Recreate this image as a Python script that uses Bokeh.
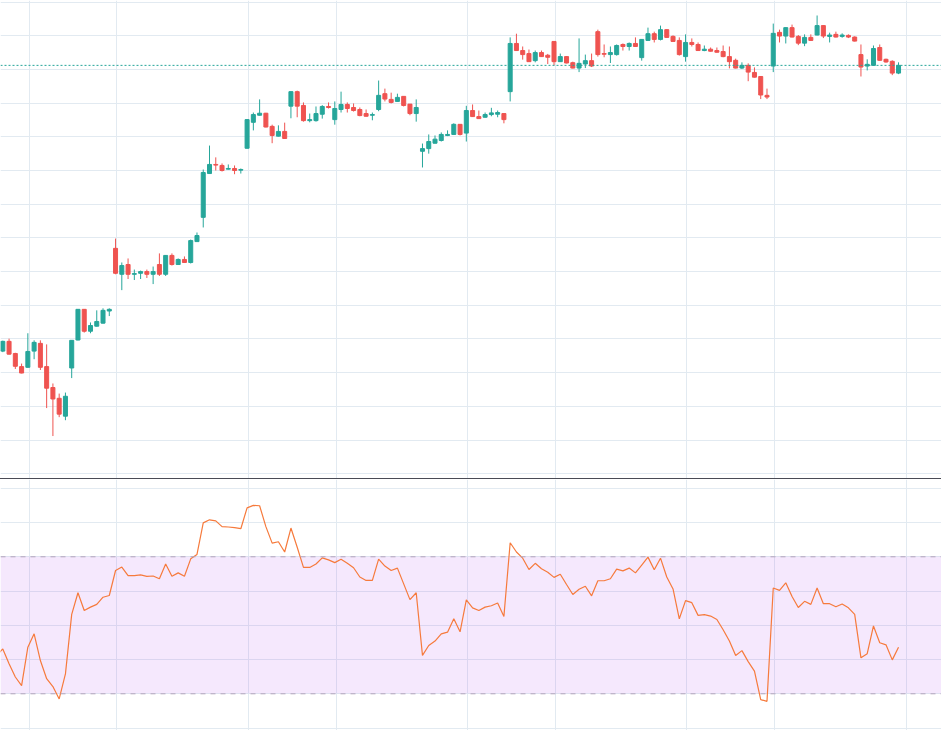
from bokeh.plotting import figure
from bokeh.layouts import column
from bokeh.models import Range1d, Span, FixedTicker, ColumnDataSource, Div
from bokeh.embed import file_html
from bokeh.resources import INLINE

# ---------------- data ----------------
opens = [136.4, 139.3, 135.7, 131.8, 131.6, 136.4, 138.7, 131.8, 125.6, 122.4,
         117.1, 131.4, 139.7, 148.8, 142.3, 143.8, 144.7, 148.3,
         166.9, 159.2, 162.1, 159.2, 159.5, 160.0, 159.2, 162.1, 159.2, 164.8,
         162.1, 163.6, 162.7, 168.9, 176.1, 189.1, 191.8, 191.5, 190.4, 190.6, 190.1,
         196.6, 204.3, 206.4, 207.0, 203.1, 200.2, 201.6, 209.1, 213.4, 209.3,
         204.8, 204.8, 206.7, 209.0, 205.1, 208.1, 209.6, 208.7, 208.1, 206.9,
         206.4, 208.1, 212.8, 211.1, 210.5, 212.0, 209.7, 206.9, 195.7, 196.5,
         198.1, 198.9, 200.4, 200.7, 203.7, 201.1, 207.8, 206.0, 205.8, 206.6,
         206.7, 206.9,
         213.4, 227.7, 225.6, 224.7, 222.6, 225.0, 224.2, 228.3, 222.3, 223.8,
         222.0, 220.4, 221.6, 222.6, 231.2, 224.7, 224.4, 224.4, 227.4, 226.8,
         227.7, 223.5, 228.6, 230.6, 228.9, 231.8, 229.8, 228.6, 223.8, 228.0,
         227.4,
         225.6, 226.0, 225.6, 225.3, 223.8, 222.7, 220.4, 221.2, 219.1, 217.9,
         212.3, 221.0, 231.0, 229.9, 232.4, 229.8, 227.8, 229.5, 230.2, 233.0,
         229.8, 230.4, 229.8, 230.1, 229.6, 224.4, 221.0, 221.2, 226.5, 223.0,
         222.4, 218.9]

closes = [139.3, 135.5, 131.9, 129.9, 136.3, 139.0, 131.6, 125.4, 122.2, 117.7,
          123.0, 139.6, 148.8, 142.3, 144.0, 145.2, 148.5, 148.8,
          159.5, 161.8, 159.2, 159.4, 160.0, 159.2, 160.0, 159.2, 164.8, 162.1,
          163.6, 162.7, 169.2, 170.7, 189.4, 191.8, 191.6, 190.0, 190.6, 190.0, 190.3,
          205.1, 206.6, 207.0, 202.9, 200.4, 201.6, 199.5, 213.4, 209.1, 204.8,
          205.1, 206.9, 209.0, 208.7, 208.4, 209.6, 208.4, 207.8, 206.3, 206.1,
          206.6, 212.3, 211.2, 210.2, 211.7, 209.3, 206.9, 208.7, 196.5, 198.6,
          199.3, 200.7, 200.7, 203.7, 200.7, 207.8, 206.0, 205.4, 206.6, 207.1,
          207.2, 205.1,
          227.7, 225.6, 224.4, 222.3, 225.0, 223.8, 223.6, 222.3, 223.8, 221.9,
          220.4, 221.8, 222.6, 221.0, 224.4, 224.5, 225.0, 227.1, 226.8, 227.7,
          226.8, 228.9, 230.6, 228.9, 231.8, 229.5, 228.3, 224.4, 228.0, 227.4,
          225.6,
          226.0, 225.4, 225.1, 223.8, 222.3, 220.4, 221.2, 219.2, 217.7, 212.4,
          211.8, 230.7, 229.9, 232.4, 229.6, 227.8, 229.5, 228.6, 233.0, 229.9,
          230.2, 229.6, 230.2, 229.6, 228.4, 220.7, 221.5, 226.2, 222.7, 222.2,
          218.9, 221.2]

highs = [139.5, 140.1, 135.9, 132.7, 141.7, 139.6, 139.6, 138.4, 126.8, 123.8,
         124.1, 139.6, 148.9, 148.9, 144.9, 148.5, 149.1, 149.1,
         169.8, 162.7, 163.9, 160.6, 160.3, 160.6, 161.5, 165.4, 164.9, 165.4,
         163.9, 164.5, 169.5, 171.6, 190.3, 197.4, 193.9, 192.1, 191.8, 191.5, 190.6,
         205.2, 207.2, 211.1, 207.1, 203.6, 203.4, 204.2, 213.5, 213.7, 210.2,
         206.9, 209.0, 209.4, 210.2, 210.5, 213.4, 210.2, 209.9, 208.7, 208.1,
         207.2, 216.7, 214.3, 213.1, 212.8, 212.0, 209.7, 211.1, 198.0, 200.7,
         200.4, 201.3, 201.9, 204.0, 203.8, 209.2, 209.6, 207.8, 207.2, 208.6,
         207.8, 207.0,
         229.5, 230.6, 226.8, 225.9, 225.6, 225.6, 224.6, 228.4, 224.7, 223.9,
         222.3, 229.2, 224.4, 224.7, 231.8, 227.4, 226.8, 227.4, 227.7, 228.0,
         229.5, 229.0, 232.4, 231.2, 233.0, 231.9, 230.1, 229.5, 230.4, 229.2,
         228.0,
         227.1, 226.5, 226.5, 227.1, 226.8, 223.2, 222.1, 221.8, 220.6, 218.0,
         214.3, 233.6, 231.8, 232.5, 233.3, 230.2, 230.4, 230.4, 236.0, 233.1,
         230.9, 231.2, 230.7, 230.4, 229.8, 227.4, 223.0, 227.1, 227.4, 223.2,
         222.7, 222.1]

lows = [136.1, 135.4, 131.1, 129.8, 131.5, 134.0, 130.8, 119.5, 111.2, 116.8,
        115.9, 128.4, 139.6, 141.9, 141.7, 143.7, 144.6, 146.8,
        159.2, 154.5, 157.8, 157.5, 157.8, 158.1, 156.3, 158.7, 158.7, 161.8,
        162.0, 162.6, 162.4, 168.8, 173.1, 189.0, 190.0, 189.7, 190.3, 188.9, 189.1,
        196.5, 201.9, 206.3, 202.8, 198.1, 200.1, 199.4, 205.5, 205.8, 204.5,
        204.3, 204.5, 205.4, 208.4, 203.6, 207.2, 207.2, 207.5, 206.1, 206.0,
        204.9, 207.6, 210.5, 209.9, 210.4, 209.0, 206.4, 204.5, 190.9, 195.0,
        198.0, 198.6, 200.2, 200.6, 200.4, 198.6, 205.9, 205.3, 205.7, 206.1,
        205.8, 204.0,
        210.5, 225.5, 222.9, 222.2, 222.1, 223.7, 221.6, 221.2, 222.2, 221.8,
        220.3, 219.2, 220.4, 220.7, 223.8, 223.6, 221.9, 224.1, 225.6, 225.6,
        226.7, 222.6, 228.5, 228.0, 228.6, 229.4, 228.2, 224.1, 222.3, 226.8,
        225.5,
        225.4, 225.3, 225.0, 223.6, 220.3, 220.3, 220.1, 216.5, 217.6, 211.2,
        211.2, 219.2, 228.0, 227.7, 229.5, 227.2, 226.9, 228.5, 230.1, 229.3,
        228.0, 229.5, 229.4, 229.3, 228.3, 217.9, 219.7, 221.1, 222.6, 222.0,
        218.3, 218.6]

# RSI values, first value belongs to the bar just left of the visible window
rsi_first_bar = -1
rsi = [41.2, 43.1, 38.8, 34.9, 32.4, 43.6, 47.5, 39.7, 34.4, 32.1, 28.5,
       35.8, 53.2, 59.5, 54.3, 55.3, 56.1, 58.2, 58.7, 66.0, 67.0,
       64.5, 64.5, 64.7, 64.3, 64.4, 63.6, 67.9, 64.3, 65.3, 64.3,
       69.4, 70.7, 79.9, 80.8, 80.5, 78.8, 78.7, 78.5, 78.2, 84.3,
       85.0, 84.9, 78.8, 74.0, 74.4, 71.4, 78.4, 72.8, 66.9, 66.9,
       67.9, 69.7, 69.1, 68.3, 69.3, 68.1, 66.8, 64.1, 63.1, 63.1,
       69.3, 67.3, 66.0, 66.7, 62.1, 57.5, 59.5, 41.2, 44.1, 45.4,
       47.5, 48.0, 51.9, 48.1, 57.4, 55.1, 54.3, 55.3, 55.7, 56.5,
       52.6, 74.1, 71.4, 69.6, 66.3, 68.1, 66.5, 65.5, 64.0, 64.9,
       61.9, 59.0, 60.5, 61.4, 58.6, 63.0, 63.0, 63.6, 66.4, 65.9,
       66.7, 65.3, 67.6, 69.9, 66.2, 69.6, 64.1, 60.6, 51.9, 57.2,
       56.6, 52.9, 53.1, 52.7, 51.7, 48.7, 45.4, 41.2, 42.6, 39.4,
       36.6, 28.3, 27.8, 60.9, 60.2, 62.4, 58.4, 55.2, 57.0, 56.1,
       60.9, 56.3, 56.3, 55.4, 56.2, 55.1, 53.2, 40.5, 41.7, 49.8,
       44.9, 44.3, 39.9, 43.6]

rsi_upper = 70
rsi_lower = 30
price_grid = list(range(100, 250, 10))
rsi_grid = [20, 30, 40, 50, 60, 70, 80, 90]
time_grid = [4.2, 18.2, 39.2, 53.2, 74.2, 88.2, 109.2, 123.2, 144.2]

# ---------------- styling ----------------
UP = "#26a69a"
DOWN = "#ef5350"
GRID = "#e2eaf1"

idx = list(range(len(opens)))
colors = [UP if c >= o else DOWN for o, c in zip(opens, closes)]
src = ColumnDataSource(dict(
    x=idx, open=opens, close=closes, high=highs, low=lows,
    top=[max(o, c) for o, c in zip(opens, closes)],
    bottom=[min(o, c) for o, c in zip(opens, closes)],
    color=colors))

x_range = Range1d(-0.367, 149.86)

p = figure(width=941, height=478, x_range=x_range, y_range=Range1d(98.6, 240.45),
           output_backend="svg", toolbar_location=None,
           x_axis_location=None, y_axis_location=None,
           min_border=0, outline_line_color=None)
p.xgrid.ticker = FixedTicker(ticks=time_grid)
p.ygrid.ticker = FixedTicker(ticks=price_grid)
p.grid.grid_line_color = GRID
p.grid.grid_line_width = 1

p.segment(x0="x", y0="low", x1="x", y1="high", color="color", line_width=1, source=src)
p.vbar(x="x", width=0.64, top="top", bottom="bottom", fill_color="color",
       line_color="color", line_width=1, source=src)

p.add_layout(Span(location=closes[-1], dimension="width", line_color=UP,
                  line_dash="2 2", line_width=1))

separator = Div(width=941, height=1, margin=0,
                styles={"background-color": "#4a4b55", "height": "1px",
                        "width": "941px"})

q = figure(width=941, height=251, x_range=x_range, y_range=Range1d(19.28, 92.57),
           output_backend="svg", toolbar_location=None,
           x_axis_location=None, y_axis_location=None,
           min_border=0, outline_line_color=None)
q.xgrid.ticker = FixedTicker(ticks=time_grid)
q.ygrid.ticker = FixedTicker(ticks=rsi_grid)
q.grid.grid_line_color = GRID
q.grid.grid_line_width = 1

q.hstrip(y0=[rsi_lower], y1=[rsi_upper], fill_color="#b04df0", fill_alpha=0.13,
         line_color=None)
rsi_x = list(range(rsi_first_bar, rsi_first_bar + len(rsi)))
q.line(rsi_x, rsi, line_color="#f67a3c", line_width=1.2)
for lvl in (rsi_upper, rsi_lower):
    q.add_layout(Span(location=lvl, dimension="width", line_color="#b3a5bd",
                      line_dash="5 5", line_width=1))

layout = column(p, separator, q, spacing=0)
open("out.html", "w").write(file_html(layout, INLINE))
